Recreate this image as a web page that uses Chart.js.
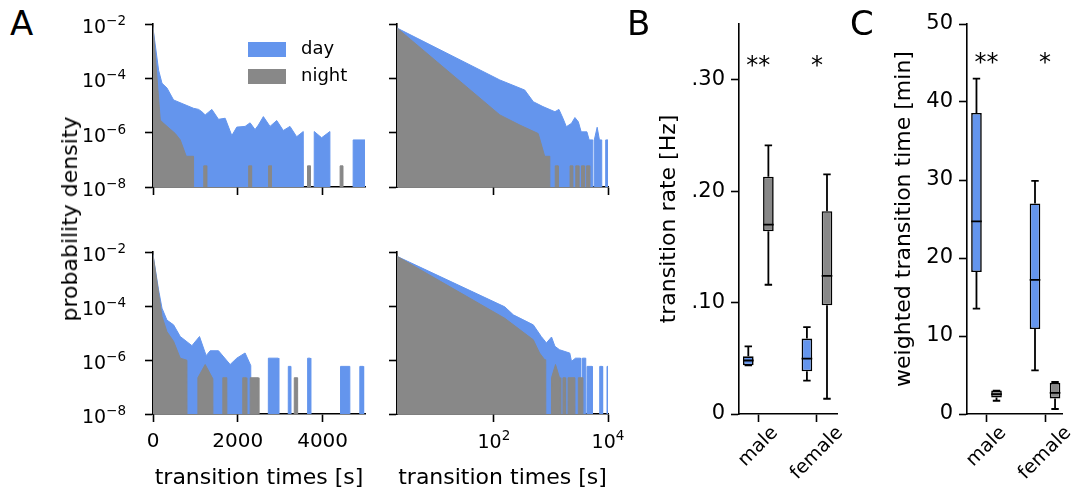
<!DOCTYPE html>
<html lang="en">
<head>
<meta charset="utf-8">
<title>Transition times, day vs night</title>
<script src="https://cdn.jsdelivr.net/npm/chart.js@4.4.1/dist/chart.umd.min.js"></script>
<style>
  html, body { margin: 0; padding: 0; background: #fff; }
  #fig { position: relative; width: 1073px; height: 493px; overflow: hidden;
         font-family: "DejaVu Sans", sans-serif; color: #000; }
  #fig canvas { position: absolute; }
  .letter { position: absolute; font-size: 34px; line-height: 34px; }
  .ylab { position: absolute; font-size: 22px; line-height: 26px; white-space: nowrap;
          transform: translate(-50%, -50%) rotate(-90deg); }
  .legend-row { position: absolute; height: 15px; display: flex; align-items: center;
                font-size: 18px; white-space: nowrap; }
  .legend-row span { position: relative; top: -2px; }
  .swatch { width: 38px; height: 15px; margin-right: 15px; }
</style>
</head>
<body>
<div id="fig">
  <canvas id="topLin"></canvas>
  <canvas id="topLog"></canvas>
  <canvas id="botLin"></canvas>
  <canvas id="botLog"></canvas>
  <canvas id="rate"></canvas>
  <canvas id="wtime"></canvas>
  <div class="ylab" style="left:70px; top:219px">probability density</div>
  <div id="legend"></div>
  <span class="letter" style="left:10px; top:6px">A</span>
  <span class="letter" style="left:627px; top:6px">B</span>
  <span class="letter" style="left:850px; top:6px">C</span>
</div>
<script>
/* global Chart */

// ---- panel A: probability density of transition times ----
const seriesNames = ["day", "night"];
const seriesColors = ["#6495ed", "#888888"];

// [transition time (s), density]; 0 = empty bin
const topLinDay = [
  [0, 7.1e-3], [132, 2.0e-4], [212, 6.6e-5], [330, 4.4e-5], [485, 1.6e-5], [955, 7.9e-6],
  [1075, 7.2e-6], [1153, 5.9e-6], [1231, 4.5e-6], [1388, 7.2e-6], [1545, 3.1e-6], [1702, 3.4e-6],
  [1859, 7.8e-7], [1976, 1.6e-6], [2172, 1.7e-6], [2290, 2.3e-6], [2407, 1.3e-6], [2485, 1.9e-6],
  [2603, 3.9e-6], [2760, 1.7e-6], [2918, 2.8e-6], [3073, 1.2e-6], [3231, 1.7e-6], [3388, 7.1e-7],
  [3544, 1.1e-6], [3568, 0], [3790, 0], [3803, 1.1e-6], [3977, 6.5e-7], [4172, 1.1e-6], [4188, 0],
  [4710, 0], [4721, 5.4e-7], [5000, 5.4e-7],
];
const topLinNight = [
  [0, 7.9e-3], [172, 2.9e-6], [250, 2.2e-6], [525, 9.3e-7], [643, 5.4e-7], [784, 1.35e-7],
  [956, 1.35e-7], [970, 0],
  [1196, 0], [1197, 6e-8], [1265, 6e-8], [1266, 0],
  [2255, 0], [2256, 6e-8], [2324, 6e-8], [2325, 0],
  [2725, 0], [2726, 6e-8], [2794, 6e-8], [2795, 0],
  [3643, 0], [3644, 6e-8], [3712, 6e-8], [3713, 0],
  [4412, 0], [4413, 6e-8], [4481, 6e-8], [4482, 0], [5000, 0],
];
const topLogDay = [
  [2, 7.1e-3], [127, 8.7e-5], [347, 3.7e-5], [490, 1.38e-5], [724, 9.1e-6], [1175, 5.9e-6],
  [1380, 7.2e-6], [1622, 3.4e-6], [1862, 1.66e-6], [2291, 2.2e-6], [2630, 3.6e-6], [3020, 2.5e-6],
  [3388, 1.07e-6], [4266, 1.07e-6], [4677, 5.4e-7], [5420, 5.4e-7], [5460, 0], [5690, 0],
  [5754, 5.4e-7], [6457, 1.58e-6], [7079, 5.4e-7], [7762, 5.4e-7], [7943, 0], [9000, 0],
  [9120, 5.4e-7], [10000, 5.4e-7],
];
const topLogNight = [
  [2, 7.1e-3], [127, 4.5e-6], [285, 1.9e-6], [596, 9.3e-7], [631, 6.2e-7], [776, 1.35e-7],
  [955, 1.35e-7], [1000, 0],
  [1175, 0], [1189, 6e-8], [1334, 6e-8], [1349, 0],
  [2138, 0], [2163, 6e-8], [2427, 6e-8], [2455, 0],
  [2692, 0], [2723, 6e-8], [3055, 6e-8], [3090, 0],
  [3388, 0], [3428, 6e-8], [3846, 6e-8], [3890, 0],
  [4169, 0], [4217, 6e-8], [4732, 6e-8], [4786, 0], [10000, 0],
];
const botLinDay = [
  [0, 7.9e-3], [132, 3.9e-4], [212, 8.3e-5], [329, 3.0e-5], [485, 2.0e-5], [643, 7.4e-6],
  [918, 3.4e-6], [1097, 7.4e-6], [1254, 1.45e-6], [1348, 2.2e-6], [1545, 2.2e-6], [1819, 6.8e-7],
  [1976, 1.17e-6], [2172, 1.82e-6], [2306, 6.2e-7], [2329, 0], [2709, 0], [2721, 1.17e-6],
  [2955, 1.17e-6], [2967, 0], [3179, 0], [3191, 5.8e-7], [3254, 5.8e-7], [3266, 0], [3635, 0],
  [3647, 1.17e-6], [3709, 1.17e-6], [3721, 0], [4411, 0], [4423, 5.8e-7], [4642, 5.8e-7],
  [4654, 0], [4866, 0], [4878, 5.8e-7], [4956, 5.8e-7], [4968, 0], [5000, 0],
];
const botLinNight = [
  [0, 7.9e-3], [212, 4.1e-5], [329, 1.12e-5], [485, 4.9e-6], [643, 1.17e-6], [800, 9.8e-7],
  [815, 0], [1047, 0], [1059, 2.2e-7], [1231, 6.8e-7], [1412, 2.0e-7], [1427, 0], [1635, 0],
  [1647, 2.2e-7], [1741, 2.2e-7], [1753, 0], [2105, 0], [2117, 2.2e-7], [2200, 2.2e-7],
  [2212, 0], [2280, 0], [2292, 2.2e-7], [2486, 2.2e-7], [2498, 0], [3320, 0], [3332, 2.2e-7],
  [3411, 2.2e-7], [3423, 0], [5000, 0],
];
const botLogDay = [
  [2, 6.9e-3], [155, 9.3e-5], [219, 4.7e-5], [490, 2.0e-5], [676, 7.4e-6], [832, 4.3e-6],
  [1023, 7.1e-6], [1175, 3.2e-6], [1413, 2.4e-6], [2138, 1.8e-6], [2291, 8.9e-7], [2692, 1.17e-6],
  [3300, 1.17e-6], [3327, 0], [3530, 0], [3565, 1.17e-6], [4074, 1.17e-6], [4120, 0], [4250, 0],
  [4295, 5.8e-7], [5248, 5.8e-7], [5320, 0], [7050, 0], [7161, 5.8e-7], [7943, 5.8e-7],
  [8050, 0], [9500, 0], [9616, 5.8e-7], [10000, 5.8e-7],
];
const botLogNight = [
  [2, 6.9e-3], [155, 3.5e-5], [490, 5.6e-6], [631, 1.82e-6], [776, 1.02e-6], [810, 1.02e-6],
  [832, 0], [1000, 0], [1023, 2.2e-7], [1202, 6.8e-7], [1413, 2.2e-7], [1450, 2.2e-7], [1486, 0],
  [1600, 0], [1622, 2.2e-7], [1778, 2.2e-7], [1810, 0], [1960, 0], [1995, 2.2e-7], [2630, 2.2e-7],
  [2680, 0], [2980, 0], [3020, 2.2e-7], [3630, 2.2e-7], [3680, 0], [10000, 0],
];

const densityTicks = [1e-8, 1e-6, 1e-4, 1e-2];
const densityTickExps = ["−8", "−6", "−4", "−2"];
const linTimeTicks = [0, 2000, 4000];
const logTimeTicks = [1e2, 1e4];
const logTimeTickExps = ["2", "4"];

// ---- panels B, C: per-animal summaries, [min, q1, median, q3, max] ----
const groups = ["male", "female"];
const rateDay = [[0.0437, 0.0437, 0.048, 0.0518, 0.0607], [0.030, 0.0383, 0.0497, 0.0677, 0.078]];
const rateNight = [[0.116, 0.164, 0.170, 0.213, 0.241], [0.0137, 0.0976, 0.124, 0.182, 0.215]];
const rateTicks = [0, 0.1, 0.2, 0.3];
const rateTickLabels = ["0", ".10", ".20", ".30"];
const wtimeDay = [[13.5, 18.2, 24.7, 38.6, 43.0], [5.6, 10.9, 17.2, 27.0, 29.9]];
const wtimeNight = [[1.7, 2.1, 2.56, 3.0, 3.0], [0.64, 2.0, 2.7, 4.0, 4.1]];
const wtimeTicks = [0, 10, 20, 30, 40, 50];
const significance = ["**", "*"];

const FONT = '"DejaVu Sans", sans-serif';
const TICK_LEN = 8;
const EMPTY_BIN = 1e-30; // far below the log axis, so empty bins drop to the floor

const toXY = (pts) => pts.map(([x, y]) => ({ x, y: y > 0 ? y : EMPTY_BIN }));
const font = (size) => ({ family: FONT, size });

function fixedTicks(values) {
  return (scale) => { scale.ticks = values.map((value) => ({ value })); };
}

// matplotlib-like spine: axis line + outward ticks, no grid
function spine(extra) {
  return {
    offset: false,
    border: { display: true, color: "#000", width: 1.6 },
    grid: { drawOnChartArea: false, drawTicks: true, tickLength: TICK_LEN, tickWidth: 1.6, tickColor: "#000", offset: false },
    ...extra,
  };
}

function placeCanvas(id, area, box) {
  const c = document.getElementById(id);
  c.width = box.left + (area.r - area.l) + box.right;
  c.height = box.top + (area.b - area.t) + box.bottom;
  c.style.left = `${area.l - box.left}px`;
  c.style.top = `${area.t - box.top}px`;
  return c;
}

// "10" with a raised exponent, like matplotlib's mathtext log labels
const powerTicks = {
  id: "powerTicks",
  afterDraw(chart, args, opts) {
    const { ctx, chartArea } = chart;
    const base = 19, sup = 13.5;
    ctx.save();
    ctx.fillStyle = "#000";
    ctx.textAlign = "left";
    ctx.textBaseline = "alphabetic";
    (opts.items || []).forEach(({ axis, values, exps }) => {
      const scale = chart.scales[axis];
      values.forEach((v, i) => {
        ctx.font = `${base}px ${FONT}`;
        const wb = ctx.measureText("10").width;
        ctx.font = `${sup}px ${FONT}`;
        const we = ctx.measureText(exps[i]).width;
        const p = scale.getPixelForValue(v);
        let x0, y0;
        if (axis === "y") {
          x0 = chartArea.left - TICK_LEN - 19 - wb - we;
          y0 = p + 0.47 * base;
        } else {
          x0 = p - (wb + we) / 2;
          y0 = chartArea.bottom + 34;
        }
        ctx.font = `${base}px ${FONT}`;
        ctx.fillText("10", x0, y0);
        ctx.font = `${sup}px ${FONT}`;
        ctx.fillText(exps[i], x0 + wb, y0 - 0.42 * base);
      });
    });
    ctx.restore();
  },
};

function densityPanel(id, area, day, night, { logX, showX, showY }) {
  const box = { left: 100, top: 30, right: 26, bottom: 77 };
  const canvas = placeCanvas(id, area, box);
  const fillStyle = (i) => ({
    label: seriesNames[i], backgroundColor: seriesColors[i], borderColor: seriesColors[i],
    borderWidth: 1, pointRadius: 0, tension: 0, fill: "start",
  });
  const powerItems = [];
  if (showY) powerItems.push({ axis: "y", values: densityTicks, exps: densityTickExps });
  if (showX && logX) powerItems.push({ axis: "x", values: logTimeTicks, exps: logTimeTickExps });
  return new Chart(canvas, {
    type: "line",
    data: {
      datasets: [
        { ...fillStyle(0), data: toXY(day), order: 1 },
        { ...fillStyle(1), data: toXY(night), order: 0 },
      ],
    },
    plugins: [powerTicks],
    options: {
      responsive: false,
      animation: false,
      events: [],
      layout: { padding: { left: 0, top: box.top, right: box.right, bottom: 0 } },
      plugins: {
        legend: { display: false },
        tooltip: { enabled: false },
        powerTicks: { items: powerItems },
      },
      scales: {
        x: spine({
          type: logX ? "logarithmic" : "linear",
          min: logX ? 2 : 0,
          max: logX ? 1e4 : 5000,
          afterBuildTicks: fixedTicks(logX ? logTimeTicks : linTimeTicks),
          afterFit: (s) => { s.height = box.bottom; },
          ticks: {
            display: showX && !logX, padding: 8, color: "#000", font: font(20), maxRotation: 0, autoSkip: false,
            callback: (v) => String(v),
          },
          title: { display: showX, text: "transition times [s]", color: "#000", font: font(22), padding: 0 },
        }),
        y: spine({
          type: "logarithmic",
          min: 1e-8,
          max: 1e-2,
          afterBuildTicks: fixedTicks(densityTicks),
          afterFit: (s) => { s.width = box.left; },
          ticks: { display: false },
        }),
      },
    },
  });
}

// whiskers, caps and medians on top of the floating-bar boxes
const boxWhiskers = {
  id: "boxWhiskers",
  afterDatasetsDraw(chart) {
    const { ctx } = chart;
    const y = chart.scales.y;
    ctx.save();
    ctx.strokeStyle = "#000";
    ctx.lineWidth = 1.8;
    chart.data.datasets.forEach((ds, di) => {
      chart.getDatasetMeta(di).data.forEach((bar, i) => {
        const [lo, q1, med, q3, hi] = ds.stats[i].map((v) => y.getPixelForValue(v));
        const half = bar.width / 2;
        const cap = bar.width * 0.35;
        ctx.beginPath();
        ctx.moveTo(bar.x, q3); ctx.lineTo(bar.x, hi);
        ctx.moveTo(bar.x - cap, hi); ctx.lineTo(bar.x + cap, hi);
        ctx.moveTo(bar.x, q1); ctx.lineTo(bar.x, lo);
        ctx.moveTo(bar.x - cap, lo); ctx.lineTo(bar.x + cap, lo);
        ctx.moveTo(bar.x - half, med); ctx.lineTo(bar.x + half, med);
        ctx.stroke();
      });
    });
    ctx.restore();
  },
};

// rotated group names under the ticks, significance stars above
const groupLabels = {
  id: "groupLabels",
  afterDraw(chart, args, opts) {
    const { ctx, chartArea } = chart;
    const { x, y } = chart.scales;
    ctx.save();
    ctx.fillStyle = "#000";
    ctx.font = `19px ${FONT}`;
    ctx.textAlign = "center";
    ctx.textBaseline = "middle";
    groups.forEach((name, i) => {
      const w = ctx.measureText(name).width;
      const side = (w + 19 * 0.76) * Math.SQRT1_2;
      ctx.save();
      ctx.translate(x.getPixelForValue(i), chartArea.bottom + opts.labelGap + side / 2);
      ctx.rotate(-Math.PI / 4);
      ctx.fillText(name, 0, 0);
      ctx.restore();
    });
    ctx.font = `24px ${FONT}`;
    ctx.textBaseline = "alphabetic";
    significance.forEach((s, i) => {
      ctx.fillText(s, x.getPixelForValue(i), y.getPixelForValue(opts.starValue) + 0.45 * 24);
    });
    ctx.restore();
  },
};

function boxPanel(id, area, box, cfg) {
  const canvas = placeCanvas(id, area, box);
  const floating = (stats) => stats.map((s, i) => ({ x: i, y: [s[1], s[3]] }));
  const barStyle = {
    borderColor: "#000", borderWidth: 1.6, borderSkipped: false,
    categoryPercentage: 0.685, barPercentage: 0.53,
  };
  return new Chart(canvas, {
    type: "bar",
    data: {
      datasets: [
        { label: seriesNames[0], data: floating(cfg.day), stats: cfg.day, backgroundColor: seriesColors[0], ...barStyle },
        { label: seriesNames[1], data: floating(cfg.night), stats: cfg.night, backgroundColor: seriesColors[1], ...barStyle },
      ],
    },
    plugins: [boxWhiskers, groupLabels],
    options: {
      responsive: false,
      animation: false,
      events: [],
      layout: { padding: { left: 0, top: box.top, right: box.right, bottom: 0 } },
      plugins: {
        legend: { display: false },
        tooltip: { enabled: false },
        groupLabels: { starValue: cfg.starValue, labelGap: 11 },
      },
      scales: {
        x: spine({
          type: "linear",
          min: cfg.xMin,
          max: cfg.xMax,
          afterBuildTicks: fixedTicks(groups.map((g, i) => i)),
          afterFit: (s) => { s.height = box.bottom; },
          ticks: { display: false },
        }),
        y: spine({
          type: "linear",
          min: 0,
          max: cfg.yMax,
          afterBuildTicks: fixedTicks(cfg.ticks),
          afterFit: (s) => { s.width = box.left; },
          ticks: {
            padding: 6, color: "#000", font: font(21), autoSkip: false,
            callback: (v) => cfg.tickLabels[cfg.ticks.indexOf(v)],
          },
          title: { display: true, text: cfg.title, color: "#000", font: font(22), padding: 0 },
        }),
      },
    },
  });
}

function buildLegend() {
  const host = document.getElementById("legend");
  seriesNames.forEach((name, i) => {
    const row = document.createElement("div");
    row.className = "legend-row";
    row.style.left = "248px";
    row.style.top = `${42 + i * 27}px`;
    const sw = document.createElement("div");
    sw.className = "swatch";
    sw.style.background = seriesColors[i];
    const txt = document.createElement("span");
    txt.textContent = name;
    row.appendChild(sw);
    row.appendChild(txt);
    host.appendChild(row);
  });
}

const colLin = { l: 153, r: 365 };
const colLog = { l: 397, r: 608 };
const rowTop = { t: 24, b: 187 };
const rowBot = { t: 252, b: 414 };

densityPanel("topLin", { ...colLin, ...rowTop }, topLinDay, topLinNight, { logX: false, showX: false, showY: true });
densityPanel("topLog", { ...colLog, ...rowTop }, topLogDay, topLogNight, { logX: true, showX: false, showY: false });
densityPanel("botLin", { ...colLin, ...rowBot }, botLinDay, botLinNight, { logX: false, showX: true, showY: true });
densityPanel("botLog", { ...colLog, ...rowBot }, botLogDay, botLogNight, { logX: true, showX: true, showY: false });

boxPanel("rate", { l: 739, r: 837, t: 24, b: 414 }, { left: 83, top: 30, right: 16, bottom: 79 }, {
  day: rateDay, night: rateNight, ticks: rateTicks, tickLabels: rateTickLabels,
  yMax: 0.35, xMin: -0.33, xMax: 1.342, starValue: 0.316, title: "transition rate [Hz]",
});
boxPanel("wtime", { l: 967, r: 1062, t: 24, b: 414 }, { left: 76, top: 30, right: 11, bottom: 79 }, {
  day: wtimeDay, night: wtimeNight, ticks: wtimeTicks, tickLabels: wtimeTicks.map(String),
  yMax: 50, xMin: -0.333, xMax: 1.29, starValue: 45.5, title: "weighted transition time [min]",
});

buildLegend();
</script>
</body>
</html>
